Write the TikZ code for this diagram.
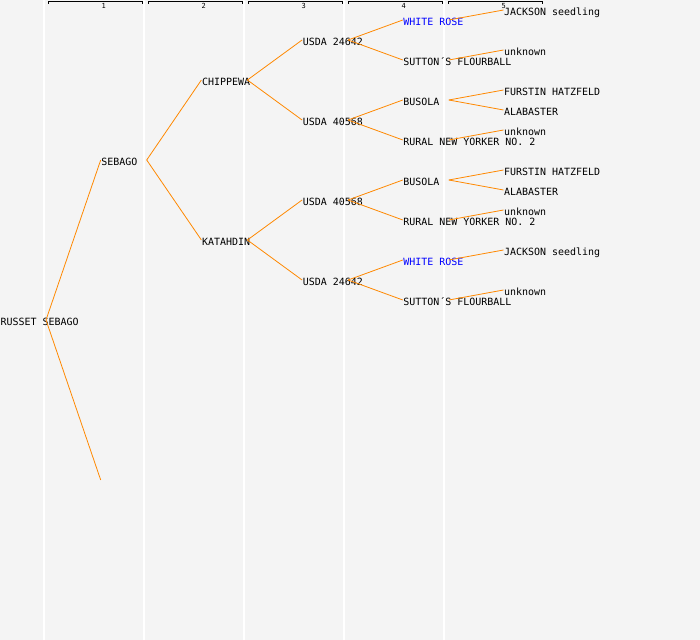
\documentclass[tikz,border=0pt]{standalone}
\usepackage{fontspec}
\setmonofont{DejaVu Sans Mono}

\definecolor{pedbg}{HTML}{F4F4F4}
\definecolor{pedline}{HTML}{FF8800}
\definecolor{pedblue}{HTML}{0000FF}

\begin{document}
\begin{tikzpicture}[x=1bp, y=1bp, grow'=right, level distance=100bp,
	every node/.style={font=\ttfamily\fontsize{10}{12}\selectfont, inner sep=0pt, anchor=west, text height=7pt, text depth=0pt,
		execute at begin node={\hbox to 0pt\bgroup}, execute at end node={\hss\egroup}},
	edge from parent/.style={draw=pedline, line width=0.8pt},
	edge from parent path={([xshift=46bp,yshift=2bp]\tikzparentnode.west) -- ([yshift=2bp]\tikzchildnode.west)},
	colsep/.style={draw=white, line width=1.2pt},
	bracket/.style={draw=black, line width=0.9pt},
	collabel/.style={font=\ttfamily\fontsize{7}{8}\selectfont, anchor=center, text height=5pt,
		execute at begin node={}, execute at end node={}},
	blueline/.style={text=pedblue}]

%BACKGROUND AND COLUMNS
\fill[pedbg] (0,0) rectangle (700,-640);
\useasboundingbox (0,0) rectangle (700,-640);
\draw[colsep] (44,0) -- (44,-640);
\draw[colsep] (144,0) -- (144,-640);
\draw[colsep] (244,0) -- (244,-640);
\draw[colsep] (344,0) -- (344,-640);
\draw[colsep] (444,0) -- (444,-640);
%HEADER
\draw[bracket] (48,-4) |- (142,-1.5) -- (142,-4);
\draw[bracket] (148,-4) |- (242,-1.5) -- (242,-4);
\draw[bracket] (248,-4) |- (342,-1.5) -- (342,-4);
\draw[bracket] (348,-4) |- (442,-1.5) -- (442,-4);
\draw[bracket] (448,-4) |- (542,-1.5) -- (542,-4);
\node[collabel] (gen1) at (101.5,-6) {1};
\node[collabel] (gen2) at (201.5,-6) {2};
\node[collabel] (gen3) at (301.5,-6) {3};
\node[collabel] (gen4) at (401.5,-6) {4};
\node[collabel] (gen5) at (501.5,-6) {5};

%DISTANCE SETTINGS
\tikzstyle{level 1}=[sibling distance=320bp]
\tikzstyle{level 2}=[sibling distance=160bp]
\tikzstyle{level 3}=[sibling distance=80bp]
\tikzstyle{level 4}=[sibling distance=40bp]
\tikzstyle{level 5}=[sibling distance=20bp]
%NODES
\node (russet) at (0,-322) {RUSSET SEBAGO}
	child {node (sebago) {SEBAGO}
		child {node (chippewa) {CHIPPEWA}
			child {node (usdaA) {USDA 24642}
				child {node[blueline] (whiteA) {WHITE ROSE}
					child {node (jacksonA) {JACKSON seedling}}
					child[missing]
				}
				child {node (suttonA) {SUTTON´S FLOURBALL}
					child {node (unknownA) {unknown}}
					child[missing]
				}
			}
			child {node (usdaB) {USDA 40568}
				child {node (busolaA) {BUSOLA}
					child {node (furstinA) {FURSTIN HATZFELD}}
					child {node (alabasterA) {ALABASTER}}
				}
				child {node (ruralA) {RURAL NEW YORKER NO. 2}
					child {node (unknownB) {unknown}}
					child[missing]
				}
			}
		}
		child {node (katahdin) {KATAHDIN}
			child {node (usdaC) {USDA 40568}
				child {node (busolaB) {BUSOLA}
					child {node (furstinB) {FURSTIN HATZFELD}}
					child {node (alabasterB) {ALABASTER}}
				}
				child {node (ruralB) {RURAL NEW YORKER NO. 2}
					child {node (unknownC) {unknown}}
					child[missing]
				}
			}
			child {node (usdaD) {USDA 24642}
				child {node[blueline] (whiteB) {WHITE ROSE}
					child {node (jacksonB) {JACKSON seedling}}
					child[missing]
				}
				child {node (suttonB) {SUTTON´S FLOURBALL}
					child {node (unknownD) {unknown}}
					child[missing]
				}
			}
		}
	}
	child {coordinate (sebagoB)};

\end{tikzpicture}
\end{document}
